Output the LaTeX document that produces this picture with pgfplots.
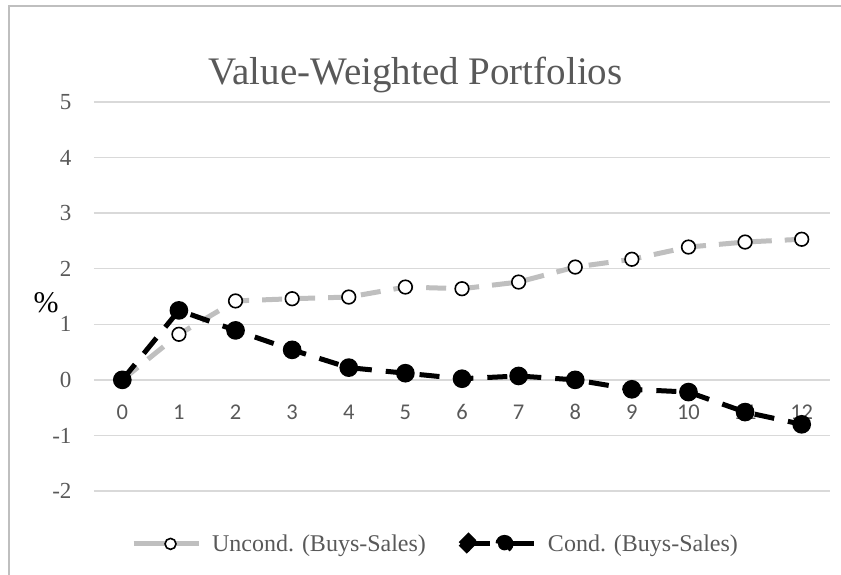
\documentclass[border=0pt]{standalone}
\usepackage{fontspec}
\setmainfont{Liberation Serif}
\newfontfamily\carlito{Carlito}
\usepackage{pgfplots}
\pgfplotsset{compat=1.18}
\definecolor{txtgray}{HTML}{595959}
\definecolor{gridgray}{HTML}{D9D9D9}
\definecolor{linegray}{HTML}{BFBFBF}
\definecolor{bordergray}{HTML}{BFBFBF}
\begin{document}
\begin{tikzpicture}
\path[use as bounding box] (0pt,0pt) rectangle (841pt,575pt);
\draw[bordergray, line width=1.5pt] (9pt,0pt) -- (9pt,569pt) -- (841pt,569pt);
\begin{axis}[
  at={(94pt,84pt)}, anchor=south west,
  scale only axis, width=736pt, height=389pt,
  xmin=-0.5, xmax=12.5, ymin=-2, ymax=5,
  xtick={0,...,12}, ytick={-2,-1,0,1,2,3,4,5},
  axis line style={draw=none},
  major tick length=0pt,
  ymajorgrids, grid style={gridgray, line width=1.3pt},
  /pgf/number format/assume math mode=true,
  xticklabel style={font=\carlito\fontsize{22.5}{22.5}\selectfont, text=txtgray, anchor=center, yshift=79pt},
  yticklabel style={font=\fontsize{23}{23}\selectfont, text=txtgray, xshift=-19pt},
  ylabel={\%}, ylabel style={rotate=-90, font=\fontsize{30}{30}\selectfont, at={(axis description cs:-0.065,0.485)}, anchor=center},
  title={Value-Weighted Portfolios},
  title style={font=\fontsize{39}{39}\selectfont, text=txtgray, at={(axis description cs:0.437,1.0)}, anchor=south, yshift=0pt},
  legend columns=2,
  legend style={draw=none, fill=none, at={(axis description cs:0.464,-0.136)}, anchor=center,
    font=\fontsize{24}{24}\selectfont, text=txtgray,
    /tikz/every odd column/.append style={column sep=9pt},
    /tikz/every even column/.append style={column sep=30pt}},
  clip=false,
]
\addplot[linegray, line width=5pt, dash pattern=on 20pt off 13pt,
  mark=*, mark size=6.8pt, mark options={solid, draw=black, fill=white, line width=1.6pt},
  legend image code/.code={
    \draw[linegray, line width=5pt, solid] (0pt,0pt) -- (65pt,0pt);
    \draw[black, fill=white, line width=1.6pt, solid] (37pt,0pt) circle (5.5pt);}]
coordinates {(0,0) (1,0.82) (2,1.42) (3,1.46) (4,1.49) (5,1.67) (6,1.64) (7,1.76) (8,2.03) (9,2.17) (10,2.39) (11,2.48) (12,2.53)};
\addlegendentry{Uncond. (Buys-Sales)}
\addplot[black, line width=5pt, dash pattern=on 20pt off 14pt,
  mark=*, mark size=6.8pt, mark options={solid, draw=black, fill=black},
  legend image code/.code={
    \draw[black, line width=5pt, solid] (0pt,0pt) -- (22pt,0pt);
    \draw[black, line width=5pt, solid] (32pt,0pt) -- (66pt,0pt);
    \fill[black] (-8pt,0pt) -- (0pt,8pt) -- (8pt,0pt) -- (0pt,-8pt) -- cycle;
    \fill[black] (36pt,0pt) circle (6.5pt);}]
coordinates {(0,0) (1,1.25) (2,0.89) (3,0.54) (4,0.22) (5,0.12) (6,0.02) (7,0.07) (8,0.0) (9,-0.17) (10,-0.22) (11,-0.58) (12,-0.80)};
\addlegendentry{Cond. (Buys-Sales)}
\end{axis}
\end{tikzpicture}
\end{document}
